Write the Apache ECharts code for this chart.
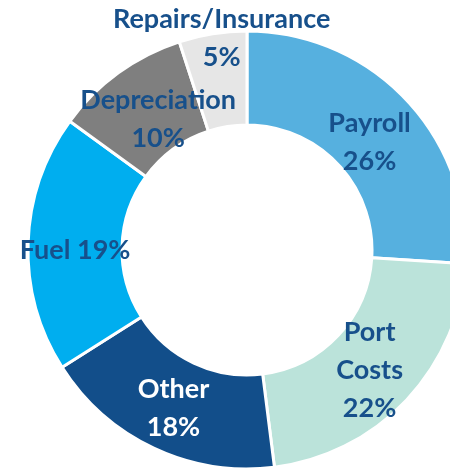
<!DOCTYPE html>
<html>
<head>
    <meta charset="UTF-8">
    <title></title>
    <script src="https://cdn.jsdelivr.net/npm/echarts@6/dist/echarts.min.js"></script>
    <style>
        *{margin:0;padding:0;}
        body,html{height:100%;width:100%;background:#fff;}
        #main{width:450px;height:471px;}
    </style>
</head>
<body>
<div id="main"></div>
<script>
    // 数据
    var categories = ['Payroll', 'Port Costs', 'Other', 'Fuel', 'Depreciation', 'Repairs/Insurance'];
    var values = [26, 22, 18, 19, 10, 5];
    var labelTexts = ['Payroll\n26%', 'Port\nCosts\n22%', 'Other\n18%', 'Fuel 19%', 'Depreciation\n10%', 'Repairs/Insurance\n5%'];
    var colors = ['#56B0DF', '#BBE3DA', '#124E8A', '#00AEEF', '#7F7F7F', '#E6E6E6'];
    var labelColors = ['#17508B', '#17508B', '#ffffff', '#17508B', '#17508B', '#17508B'];
    var labelOffsets = [[-5, 12], [-5, 1], [1, 0], [3, 6], [14, 11], [2, -39]];

    var chart = echarts.init(document.getElementById('main'));

    var data = [];
    for (var i = 0; i < categories.length; i++) {
        data.push({
            name: categories[i],
            value: values[i],
            itemStyle: {color: colors[i]},
            label: {
                formatter: labelTexts[i],
                color: labelColors[i],
                offset: labelOffsets[i]
            }
        });
    }

    chart.setOption({
        animation: false,
        series: [{
            type: 'pie',
            center: [247, 250],
            radius: [125, 219],
            startAngle: 90,
            clockwise: true,
            itemStyle: {borderColor: '#fff', borderWidth: 3},
            label: {
                show: true,
                position: 'inside',
                fontFamily: 'Lato',
                fontWeight: 'bold',
                fontSize: 27,
                lineHeight: 38
            },
            labelLine: {show: false},
            emphasis: {disabled: true},
            data: data
        }]
    });
</script>
</body>
</html>
